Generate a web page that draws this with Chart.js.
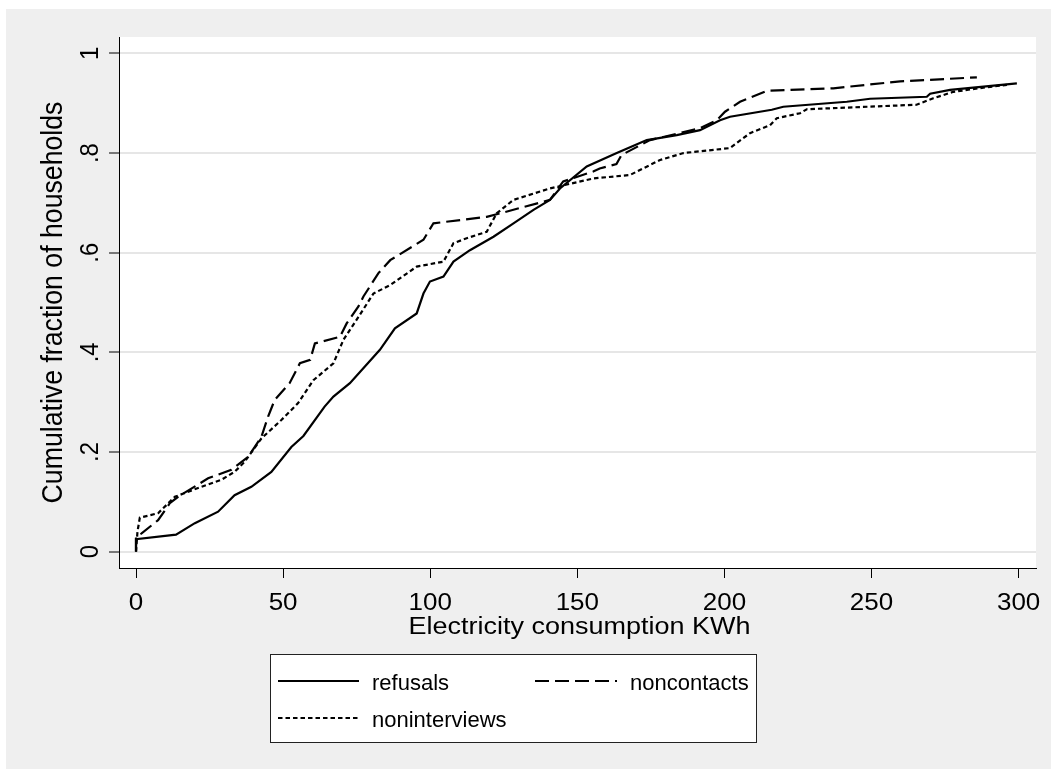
<!DOCTYPE html>
<html>
<head>
<meta charset="utf-8">
<script src="https://cdn.jsdelivr.net/npm/chart.js@4"></script>
<style>
  html, body { margin: 0; padding: 0; background: #ffffff; }
  canvas { display: block; }
</style>
</head>
<body>
<canvas id="cdf" width="1051" height="769"></canvas>
<script>
// Empirical cumulative distributions of electricity consumption (KWh)
const refusalsX = [0, 0, 13.6, 20, 27.9, 33.5, 39.2, 46, 52.8, 56.9, 64.1, 67.1, 72.7, 82.9, 88, 95.4, 97.7, 99.9, 104.5, 107.9, 113.5, 121.5, 128.3, 135.1, 140.7, 144.1, 153.2, 163.4, 173.6, 183.8, 191.7, 198.5, 201.9, 216.1, 220, 241.6, 249.5, 268.8, 269.9, 276.7, 299.4];
const refusalsY = [0, 0.025, 0.034, 0.057, 0.080, 0.113, 0.130, 0.160, 0.21, 0.232, 0.291, 0.311, 0.338, 0.405, 0.448, 0.478, 0.518, 0.542, 0.552, 0.582, 0.605, 0.632, 0.659, 0.686, 0.706, 0.729, 0.773, 0.80, 0.826, 0.836, 0.846, 0.866, 0.873, 0.887, 0.893, 0.903, 0.909, 0.913, 0.919, 0.927, 0.940];

const noncontactsX = [0, 0, 1.8, 7.5, 11.5, 14.3, 24.5, 32.4, 38.1, 42.6, 44.9, 47.1, 52.2, 55.7, 59.2, 60.8, 69.3, 71.6, 75.6, 77.3, 82.4, 86.4, 97.7, 101.1, 119.2, 123.8, 140.7, 145.2, 155.4, 157.6, 163.3, 165, 174.7, 191.7, 197.4, 200.2, 205.3, 214.4, 237, 259.7, 285.8];
const noncontactsY = [0, 0.03, 0.036, 0.063, 0.097, 0.110, 0.147, 0.164, 0.19, 0.23, 0.271, 0.304, 0.338, 0.378, 0.385, 0.418, 0.431, 0.458, 0.492, 0.512, 0.559, 0.585, 0.626, 0.659, 0.672, 0.679, 0.706, 0.743, 0.763, 0.769, 0.778, 0.796, 0.826, 0.85, 0.866, 0.883, 0.903, 0.925, 0.930, 0.944, 0.952];

const noninterviewsX = [0, 0.5, 1.3, 7.5, 13.2, 22.2, 29, 33.5, 36.9, 42.6, 49.4, 55.1, 60.3, 67.1, 70.5, 75.6, 80.7, 86.4, 95.4, 104.5, 107.9, 112.4, 119.2, 122.6, 128.3, 140.7, 155.4, 167.9, 178.1, 186.1, 201.9, 208.7, 215.5, 217.8, 225.7, 228, 265.3, 271, 277.8, 290.3, 296];
const noninterviewsY = [0, 0.04, 0.068, 0.077, 0.11, 0.130, 0.144, 0.160, 0.18, 0.227, 0.264, 0.298, 0.344, 0.378, 0.425, 0.471, 0.518, 0.535, 0.572, 0.582, 0.619, 0.629, 0.642, 0.679, 0.706, 0.729, 0.749, 0.756, 0.786, 0.80, 0.81, 0.84, 0.856, 0.87, 0.88, 0.888, 0.897, 0.91, 0.923, 0.933, 0.937];

const seriesNames = ['refusals', 'noncontacts', 'noninterviews'];
const xTickValues = [0, 50, 100, 150, 200, 250, 300];
const xTickLabels = ['0', '50', '100', '150', '200', '250', '300'];
const yTickValues = [0, 0.2, 0.4, 0.6, 0.8, 1];
const yTickLabels = ['0', '.2', '.4', '.6', '.8', '1'];
const xTitle = 'Electricity consumption KWh';
const yTitle = 'Cumulative fraction of households';

const FONT = '"Liberation Sans", Arial, Helvetica, sans-serif';

function toPoints(xs, ys) {
  return xs.map((x, i) => ({ x: x, y: ys[i] }));
}

function lineStyle(dash) {
  return {
    showLine: true, borderColor: '#000000', borderWidth: 2.2, borderDash: dash,
    pointRadius: 0, pointHoverRadius: 0, tension: 0, fill: false
  };
}

function drawText(ctx, s, x, y, size, o) {
  o = o || {};
  ctx.save();
  ctx.translate(x, y);
  ctx.scale(o.sx || 1, o.sy || 1);
  if (o.rot) ctx.rotate(o.rot);
  ctx.font = size + 'px ' + FONT;
  ctx.textAlign = o.align || 'left';
  ctx.textBaseline = 'alphabetic';
  ctx.fillStyle = '#000000';
  ctx.fillText(s, 0, 0);
  ctx.restore();
}

// Grey outer panel with a white plotting region
const panelPlugin = {
  id: 'panel',
  beforeDraw(chart) {
    const c = chart.ctx, a = chart.chartArea;
    c.save();
    c.fillStyle = '#ffffff';
    c.fillRect(0, 0, chart.width, chart.height);
    c.fillStyle = '#efefef';
    c.fillRect(6, 9, chart.width - 6, chart.height - 9);
    c.fillStyle = '#ffffff';
    c.fillRect(a.left, a.top, a.right - a.left, a.bottom - a.top);
    c.restore();
  }
};

// Tick labels, axis titles and the boxed legend
const labelsPlugin = {
  id: 'labels',
  afterDraw(chart) {
    const c = chart.ctx, sx = chart.scales.x, sy = chart.scales.y, a = chart.chartArea;
    xTickValues.forEach((v, i) => {
      drawText(c, xTickLabels[i], sx.getPixelForValue(v), 609.5, 26, { align: 'center', sy: 0.92 });
    });
    yTickValues.forEach((v, i) => {
      drawText(c, yTickLabels[i], 98, sy.getPixelForValue(v), 26, { align: 'center', sy: 0.92, rot: -Math.PI / 2 });
    });
    drawText(c, xTitle, (a.left + a.right) / 2 + 2, 634, 27, { align: 'center', sy: 0.92 });
    drawText(c, yTitle, 61.5, (a.top + a.bottom) / 2, 29, { align: 'center', sy: 0.92, rot: -Math.PI / 2 });

    // legend
    const box = { x: 270.5, y: 654.5, w: 486, h: 88 };
    c.save();
    c.fillStyle = '#ffffff';
    c.fillRect(box.x, box.y, box.w, box.h);
    c.strokeStyle = '#222222';
    c.lineWidth = 1;
    c.strokeRect(box.x, box.y, box.w, box.h);
    c.restore();
    const slots = [
      { x0: 278, x1: 359, y: 681, tx: 372 },
      { x0: 535, x1: 617, y: 681, tx: 630 },
      { x0: 278, x1: 358, y: 718, tx: 372 }
    ];
    chart.data.datasets.forEach((ds, i) => {
      const s = slots[i];
      c.save();
      c.strokeStyle = ds.borderColor;
      c.lineWidth = ds.borderWidth;
      c.setLineDash(ds.borderDash || []);
      c.beginPath();
      c.moveTo(s.x0, s.y);
      c.lineTo(s.x1, s.y);
      c.stroke();
      c.restore();
      drawText(c, ds.label, s.tx, s.y + 9, 22, {});
    });
  }
};

new Chart(document.getElementById('cdf'), {
  type: 'scatter',
  data: {
    datasets: [
      Object.assign({ label: seriesNames[0], data: toPoints(refusalsX, refusalsY) }, lineStyle([])),
      Object.assign({ label: seriesNames[1], data: toPoints(noncontactsX, noncontactsY) }, lineStyle([14, 6])),
      Object.assign({ label: seriesNames[2], data: toPoints(noninterviewsX, noninterviewsY) }, lineStyle([4.5, 3]))
    ]
  },
  options: {
    responsive: false,
    animation: false,
    devicePixelRatio: 1,
    layout: { padding: { left: 0, right: 15, top: 37, bottom: 0 } },
    plugins: { legend: { display: false }, tooltip: { enabled: false }, title: { display: false } },
    scales: {
      x: {
        type: 'linear', min: -5.78, max: 305.9,
        afterFit(s) { s.height = 201; },
        afterBuildTicks(s) { s.ticks = xTickValues.map(v => ({ value: v })); },
        grid: { drawOnChartArea: false, drawTicks: true, tickLength: 10, tickColor: '#000000', tickWidth: 1 },
        border: { display: true, color: '#000000', width: 1 },
        ticks: { display: false }
      },
      y: {
        type: 'linear', min: -0.033, max: 1.033,
        afterFit(s) { s.width = 119; },
        afterBuildTicks(s) { s.ticks = yTickValues.map(v => ({ value: v })); },
        grid: { color: '#e6e6e6', lineWidth: 2, drawTicks: true, tickLength: 10, tickColor: '#000000', tickWidth: 1 },
        border: { display: true, color: '#000000', width: 1 },
        ticks: { display: false }
      }
    }
  },
  plugins: [panelPlugin, labelsPlugin]
});
</script>
</body>
</html>
